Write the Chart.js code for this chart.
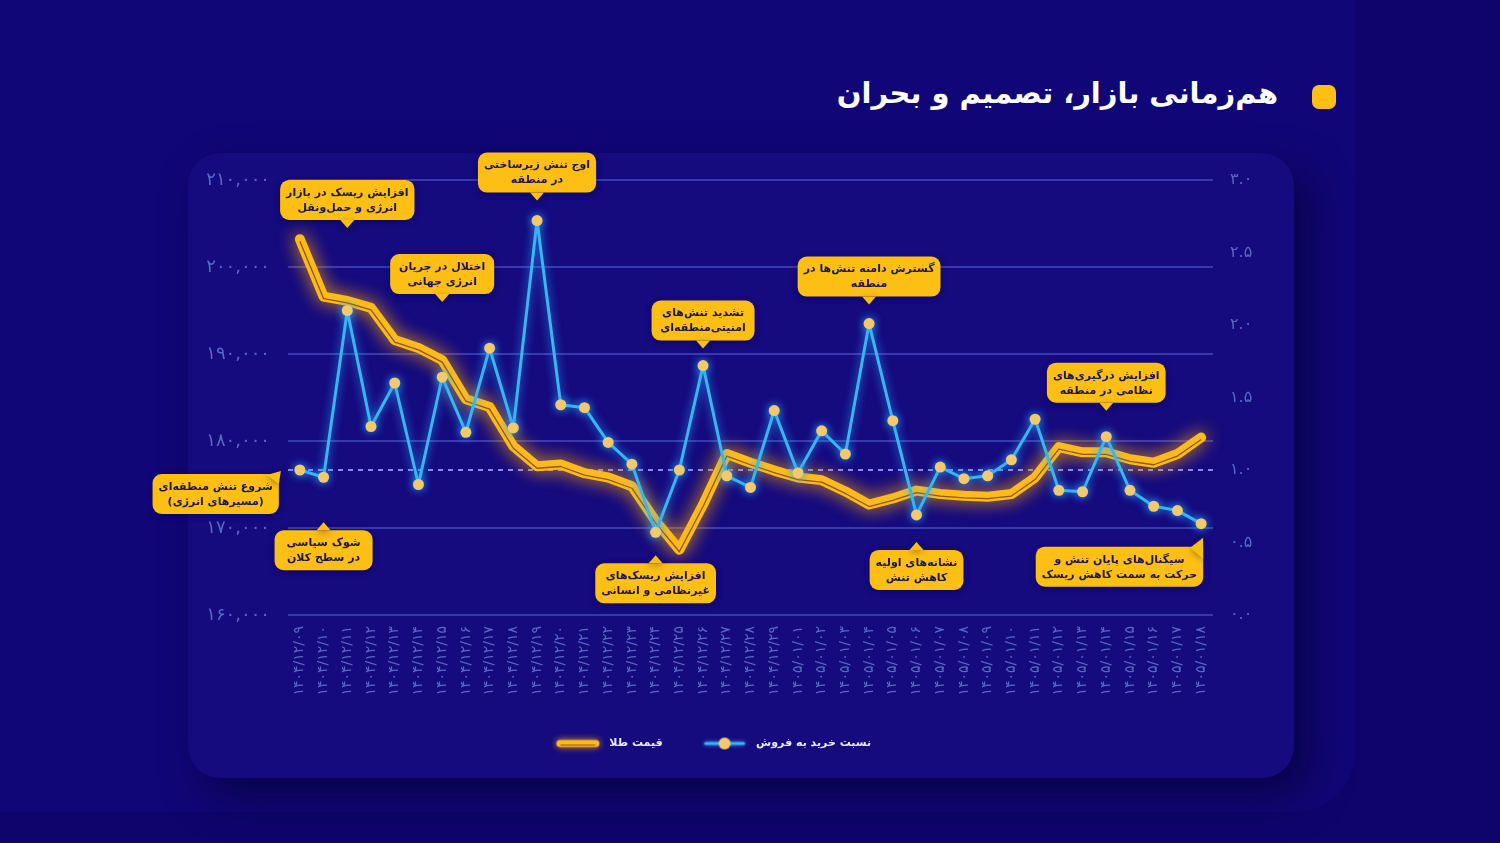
<!DOCTYPE html>
<html lang="fa">
<head>
<meta charset="utf-8">
<script src="https://cdn.jsdelivr.net/npm/chart.js@4.4.1/dist/chart.umd.min.js"></script>
<style>
html,body{margin:0;padding:0;width:1500px;height:843px;overflow:hidden;background:#0e046c;}
#panel{position:absolute;left:0;top:0;width:1355px;height:812px;background:#110677;border-bottom-right-radius:60px;}
#card{position:absolute;left:188px;top:153px;width:1106px;height:625px;background:#150a7e;border-radius:32px;box-shadow:16px 18px 40px rgba(6,3,58,0.75);}
#title{position:absolute;right:222px;top:76px;font:bold 29px 'DejaVu Sans',sans-serif;color:#ffffff;direction:rtl;white-space:nowrap;}
#dot{position:absolute;left:1312px;top:85px;width:24px;height:24px;border-radius:7px;background:#FDBF14;}
#wrap{position:absolute;left:0;top:0;width:1500px;height:843px;}
</style>
</head>
<body>
<div id="panel"></div>
<div id="card"></div>
<div id="title">هم‌زمانی بازار، تصمیم و بحران</div>
<div id="dot"></div>
<div id="wrap"><canvas id="c" width="1500" height="843"></canvas></div>
<script>
// ---------------- DATA ----------------
const dates = [
  '۱۴۰۴/۱۲/۰۹','۱۴۰۴/۱۲/۱۰','۱۴۰۴/۱۲/۱۱','۱۴۰۴/۱۲/۱۲','۱۴۰۴/۱۲/۱۳','۱۴۰۴/۱۲/۱۴','۱۴۰۴/۱۲/۱۵',
  '۱۴۰۴/۱۲/۱۶','۱۴۰۴/۱۲/۱۷','۱۴۰۴/۱۲/۱۸','۱۴۰۴/۱۲/۱۹','۱۴۰۴/۱۲/۲۰','۱۴۰۴/۱۲/۲۱','۱۴۰۴/۱۲/۲۲',
  '۱۴۰۴/۱۲/۲۳','۱۴۰۴/۱۲/۲۴','۱۴۰۴/۱۲/۲۵','۱۴۰۴/۱۲/۲۶','۱۴۰۴/۱۲/۲۷','۱۴۰۴/۱۲/۲۸','۱۴۰۴/۱۲/۲۹',
  '۱۴۰۵/۰۱/۰۱','۱۴۰۵/۰۱/۰۲','۱۴۰۵/۰۱/۰۳','۱۴۰۵/۰۱/۰۴','۱۴۰۵/۰۱/۰۵','۱۴۰۵/۰۱/۰۶','۱۴۰۵/۰۱/۰۷',
  '۱۴۰۵/۰۱/۰۸','۱۴۰۵/۰۱/۰۹','۱۴۰۵/۰۱/۱۰','۱۴۰۵/۰۱/۱۱','۱۴۰۵/۰۱/۱۲','۱۴۰۵/۰۱/۱۳','۱۴۰۵/۰۱/۱۴',
  '۱۴۰۵/۰۱/۱۵','۱۴۰۵/۰۱/۱۶','۱۴۰۵/۰۱/۱۷','۱۴۰۵/۰۱/۱۸'
];
const goldPrice = [
  203200,196600,196100,195300,191600,190700,189300,184800,183900,179400,
  177100,177300,176300,175800,174800,170800,167500,172700,178500,177500,
  176600,175800,175500,174200,172700,173400,174300,173900,173700,173600,
  173900,175800,179300,178700,178700,177900,177500,178500,180400
];
const buySellRatio = [
  1.00,0.95,2.10,1.30,1.60,0.90,1.64,1.26,1.84,1.29,
  2.72,1.45,1.43,1.19,1.04,0.57,1.00,1.72,0.96,0.88,
  1.41,0.98,1.27,1.11,2.01,1.34,0.69,1.02,0.94,0.96,
  1.07,1.35,0.86,0.85,1.23,0.86,0.75,0.72,0.63
];
const seriesNames = ['قیمت طلا', 'نسبت خرید به فروش'];
const priceTicks = {min:160000, max:210000, step:10000};
const ratioTicks = {min:0, max:3, step:0.5};
const ratioThreshold = 1.0;
const callouts = [
  {i:0,  series:'ratio', side:'leftCorner',  lines:['شروع تنش منطقه‌ای','(مسیرهای انرژی)']},
  {i:1,  series:'ratio', side:'below', lines:['شوک سیاسی','در سطح کلان']},
  {i:2,  series:'gold',  side:'above', lines:['افزایش ریسک در بازار','انرژی و حمل‌ونقل']},
  {i:6,  series:'gold',  side:'above', lines:['اختلال در جریان','انرژی جهانی']},
  {i:10, series:'ratio', side:'above', lines:['اوج تنش زیرساختی','در منطقه']},
  {i:15, series:'ratio', side:'below', lines:['افزایش ریسک‌های','غیرنظامی و انسانی']},
  {i:17, series:'ratio', side:'above', lines:['تشدید تنش‌های','امنیتی‌منطقه‌ای']},
  {i:24, series:'ratio', side:'above', lines:['گسترش دامنه تنش‌ها در','منطقه']},
  {i:26, series:'ratio', side:'below', lines:['نشانه‌های اولیه','کاهش تنش']},
  {i:34, series:'ratio', side:'above', lines:['افزایش درگیری‌های','نظامی در منطقه']},
  {i:38, series:'ratio', side:'belowCorner', lines:['سیگنال‌های پایان تنش و','حرکت به سمت کاهش ریسک']}
];

// ---------------- STYLE ----------------
const FA_DIGITS = '۰۱۲۳۴۵۶۷۸۹';
const toFa = s => String(s).replace(/\d/g, d => FA_DIGITS[d]);
const FONT = "'DejaVu Sans', sans-serif";
const GOLD = '#FDBB1B';
const BLUE = '#38b6f2';
const POINT = '#F4C96B';
const BOX = '#FDBF14';
const TICK = '#5869c4';
// gap (px) between anchor point and callout tail tip, and minimum box width, per callout index
const calloutGap = {0:0, 1:45, 2:73, 6:58, 10:20, 15:23, 17:17, 24:19, 26:27, 34:26, 38:14};
const calloutMinW = {0:114, 1:98, 2:127, 6:104, 10:104, 15:112, 17:103, 24:104, 26:93, 34:102, 38:145};

function legendIcon(kind){
  const cv = document.createElement('canvas');
  cv.width = 52; cv.height = 22;
  const x = cv.getContext('2d');
  x.lineCap = 'round';
  if (kind === 'gold') {
    x.shadowColor = 'rgba(255,170,0,0.9)'; x.shadowBlur = 7;
    x.strokeStyle = GOLD; x.lineWidth = 7;
    x.beginPath(); x.moveTo(8,11); x.lineTo(44,11); x.stroke();
    x.shadowBlur = 0;
    x.strokeStyle = 'rgba(120,70,0,0.8)'; x.lineWidth = 1;
    x.beginPath(); x.moveTo(9,12.5); x.lineTo(43,12.5); x.stroke();
  } else {
    x.shadowColor = 'rgba(40,170,255,0.9)'; x.shadowBlur = 4;
    x.strokeStyle = BLUE; x.lineWidth = 3;
    x.beginPath(); x.moveTo(7,11); x.lineTo(45,11); x.stroke();
    x.shadowBlur = 0;
    x.fillStyle = POINT;
    x.beginPath(); x.arc(26,11,6,0,Math.PI*2); x.fill();
  }
  return cv;
}
const icons = [legendIcon('gold'), legendIcon('blue')];

const glowPlugin = {
  id:'glow',
  beforeDatasetDraw(chart, args){
    const ctx = chart.ctx; ctx.save();
    const ds = chart.data.datasets[args.index];
    if (ds.glowColor){ ctx.shadowColor = ds.glowColor; ctx.shadowBlur = ds.glowBlur || 10; }
    if (ds.shiftY){ ctx.translate(0, ds.shiftY); }
  },
  afterDatasetDraw(chart){ chart.ctx.restore(); }
};

const thresholdPlugin = {
  id:'threshold',
  beforeDatasetsDraw(chart){
    const {ctx, chartArea, scales} = chart;
    const y = scales.yR.getPixelForValue(ratioThreshold);
    ctx.save();
    ctx.strokeStyle = 'rgba(150,150,250,0.9)';
    ctx.lineWidth = 2; ctx.setLineDash([5,5]);
    ctx.beginPath(); ctx.moveTo(chartArea.left, y); ctx.lineTo(chartArea.right, y); ctx.stroke();
    ctx.restore();
  }
};

function boxPath(ctx, x, y, w, h, r, sharpTR){
  const tr = sharpTR ? 0 : r;
  ctx.beginPath();
  ctx.moveTo(x+r, y);
  ctx.lineTo(x+w-tr, y);
  if (tr) ctx.arcTo(x+w, y, x+w, y+tr, tr); else ctx.lineTo(x+w, y);
  ctx.arcTo(x+w, y+h, x+w-r, y+h, r);
  ctx.arcTo(x, y+h, x, y+h-r, r);
  ctx.arcTo(x, y, x+r, y, r);
  ctx.closePath();
}

const calloutPlugin = {
  id:'callouts',
  afterDatasetsDraw(chart){
    const ctx = chart.ctx;
    const H = 40, TAIL = 8;
    ctx.save();
    ctx.font = 'bold 11px ' + FONT;
    callouts.forEach(c => {
      const meta = chart.getDatasetMeta(c.series === 'gold' ? 0 : 1);
      const p = meta.data[c.i];
      const px = p.x, py = p.y;
      const gap = calloutGap[c.i] || 0;
      const tw = Math.max(...c.lines.map(l => ctx.measureText(l).width));
      const W = Math.max(calloutMinW[c.i] || 92, tw + 12);
      let bx, by, tail;
      if (c.side === 'above') {
        const tipY = py - gap;
        by = tipY - TAIL - H; bx = px - W/2;
        tail = [[px-7, tipY-TAIL], [px+7, tipY-TAIL], [px, tipY]];
      } else if (c.side === 'below') {
        const tipY = py + gap;
        by = tipY + TAIL; bx = px - W/2;
        tail = [[px-7, tipY+TAIL], [px+7, tipY+TAIL], [px, tipY]];
      } else if (c.side === 'leftCorner') {
        const right = px - 21; by = py + 4; bx = right - W;
        tail = [[right-12, by+1], [right, by+10], [right+2, by-3]];
      } else { // belowCorner
        const right = px + 2; by = py + 23; bx = right - W;
        tail = [[right-13, by+1], [right, by+12], [right, by-9]];
      }
      ctx.save();
      ctx.shadowColor = 'rgba(0,0,40,0.35)'; ctx.shadowBlur = 6; ctx.shadowOffsetY = 2;
      ctx.fillStyle = BOX;
      boxPath(ctx, bx, by, W, H, 9, c.side === 'leftCorner' || c.side === 'belowCorner');
      ctx.fill();
      ctx.beginPath();
      ctx.moveTo(tail[0][0], tail[0][1]); ctx.lineTo(tail[1][0], tail[1][1]); ctx.lineTo(tail[2][0], tail[2][1]);
      ctx.closePath(); ctx.fill();
      ctx.restore();
      ctx.fillStyle = '#1c1552';
      ctx.textAlign = 'center'; ctx.textBaseline = 'middle';
      ctx.direction = 'rtl';
      ctx.fillText(c.lines[0], bx + W/2, by + 13);
      ctx.fillText(c.lines[1], bx + W/2, by + 28);
    });
    ctx.restore();
  }
};

new Chart(document.getElementById('c'), {
  type:'line',
  data:{
    labels: dates,
    datasets:[
      {label:seriesNames[0], data:goldPrice, yAxisID:'yL', order:3,
       borderColor:GOLD, borderWidth:10, pointRadius:0, tension:0,
       borderJoinStyle:'round', borderCapStyle:'round', clip:false,
       glowColor:'rgba(255,168,0,0.95)', glowBlur:18},
      {label:seriesNames[1], data:buySellRatio, yAxisID:'yR', order:1,
       borderColor:BLUE, borderWidth:3, tension:0, clip:false,
       borderJoinStyle:'round',
       pointRadius:5.5, pointBackgroundColor:POINT, pointBorderColor:POINT, pointBorderWidth:0,
       glowColor:'rgba(40,170,255,0.95)', glowBlur:10},
      {label:'_inner', data:goldPrice, yAxisID:'yL', order:2,
       borderColor:'rgba(125,72,0,0.85)', borderWidth:1.3, pointRadius:0, tension:0,
       borderJoinStyle:'round', clip:false, shiftY:2}
    ]
  },
  options:{
    responsive:false, animation:false,
    devicePixelRatio:1,
    layout:{padding:{left:150, right:227, top:180, bottom:84}},
    plugins:{
      tooltip:{enabled:false},
      legend:{
        position:'bottom',
        labels:{
          usePointStyle:true, pointStyleWidth:52, padding:36,
          color:'#ece9ff', font:{family:FONT, size:11, weight:'bold'},
          filter: item => item.datasetIndex !== 2,
          sort: (a, b) => a.datasetIndex - b.datasetIndex,
          generateLabels(chart){
            const items = Chart.defaults.plugins.legend.labels.generateLabels(chart);
            items.forEach(it => { if (it.datasetIndex < 2) it.pointStyle = icons[it.datasetIndex]; });
            return items;
          }
        }
      }
    },
    scales:{
      x:{
        offset:true,
        grid:{display:false, drawTicks:false},
        border:{display:false},
        ticks:{autoSkip:false, maxRotation:90, minRotation:90, padding:11,
               color:TICK, font:{family:FONT, size:14}},
        afterFit(s){ s.height = 87; }
      },
      yL:{
        position:'left', min:priceTicks.min, max:priceTicks.max,
        grid:{color:'rgba(88,96,214,0.55)', lineWidth:2, drawTicks:false},
        border:{display:false},
        ticks:{stepSize:priceTicks.step, padding:18, color:TICK,
               font:{family:FONT, size:18},
               callback:v => toFa(Number(v).toLocaleString('en-US'))},
        afterFit(s){ s.width = 138; }
      },
      yR:{
        position:'right', min:ratioTicks.min, max:ratioTicks.max,
        grid:{display:false, drawTicks:false},
        border:{display:false},
        ticks:{stepSize:ratioTicks.step, padding:17, color:TICK,
               font:{family:FONT, size:16},
               callback:v => toFa(Number(v).toFixed(1))},
        afterFit(s){ s.width = 60; }
      }
    }
  },
  plugins:[glowPlugin, thresholdPlugin, calloutPlugin]
});
</script>
</body>
</html>
